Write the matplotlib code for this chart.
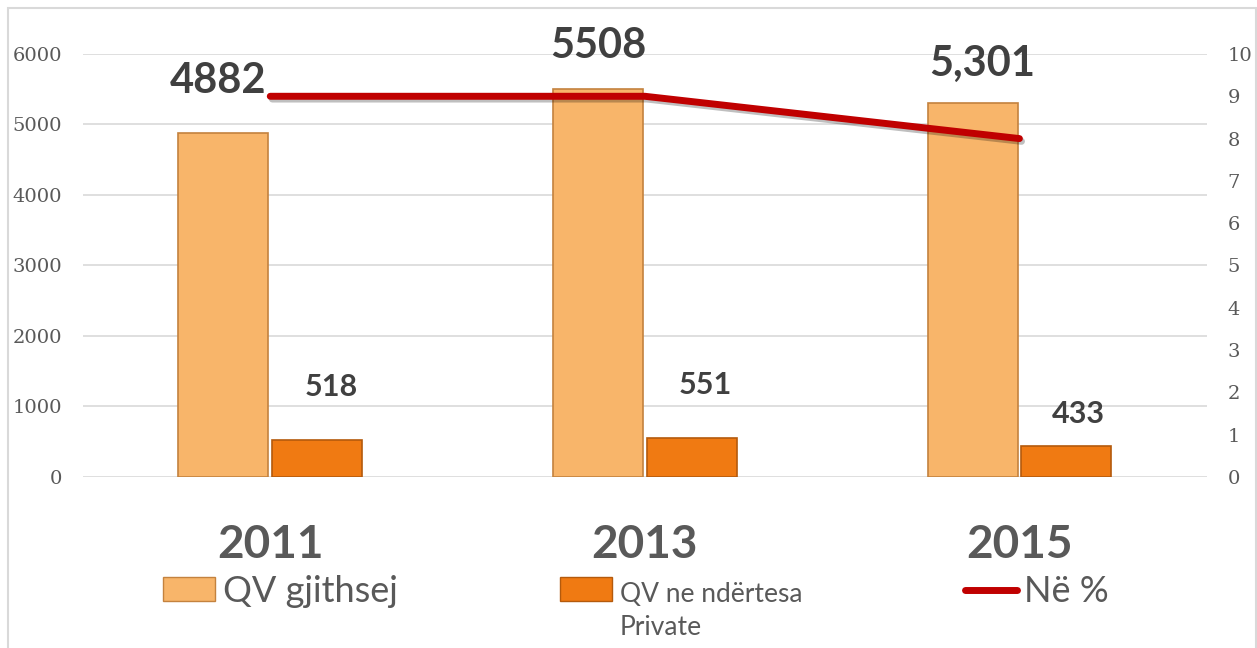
import matplotlib
matplotlib.use("Agg")
import matplotlib.pyplot as plt
import matplotlib.patheffects as pe
from matplotlib.patches import Patch, Rectangle
from matplotlib.lines import Line2D
import numpy as np

# -----------------------------------------------------------------------
# Data
# -----------------------------------------------------------------------
years = ["2011", "2013", "2015"]
qv_total = [4882, 5508, 5301]
qv_private = [518, 551, 433]
share_pct = [9, 9, 8]
total_labels = ["4882", "5508", "5,301"]
private_labels = ["518", "551", "433"]
legend_labels = ["QV gjithsej", "QV ne ndërtesa", "Në %"]

# manual label nudges (points), as placed in the original chart
total_offsets = [(-4, 29), (0, 22), (7, 20)]
private_offsets = [(10, 32), (10, 32), (9, 17)]

# -----------------------------------------------------------------------
# Styles
# -----------------------------------------------------------------------
c_total, e_total = "#F8B56A", "#C4823E"
c_private, e_private = "#F07A12", "#B45A0C"
c_line = "#C00000"
c_text = "#595959"
c_grid = "#D9D9D9"
serif = "DejaVu Serif"
sans = "Lato"

fig = plt.figure(figsize=(12.57, 6.48), dpi=100)
ax = fig.add_axes([0.066, 0.2639, 0.894, 0.6528])
ax2 = ax.twinx()

x = np.arange(len(years))
w = 0.24
ax.bar(x - 0.125, qv_total, w, color=c_total, edgecolor=e_total, linewidth=1.2, zorder=2)
ax.bar(x + 0.125, qv_private, w, color=c_private, edgecolor=e_private, linewidth=1.2, zorder=2)

ax.set_xlim(-0.5, 2.5)
ax.set_ylim(0, 6000)
ax.set_yticks(np.arange(0, 6001, 1000))
ax.grid(axis="y", color=c_grid, linewidth=1.2)
ax.set_axisbelow(True)
ax.set_xticks(x, years)

for sp in ax.spines.values():
    sp.set_visible(False)
for sp in ax2.spines.values():
    sp.set_visible(False)

ax.tick_params(axis="y", length=0, pad=15, labelsize=14, labelcolor=c_text)
ax.tick_params(axis="x", length=0, pad=34, labelsize=33, labelcolor=c_text)
for t in ax.get_yticklabels():
    t.set_fontfamily(serif)
for t in ax.get_xticklabels():
    t.set_fontfamily(sans)
    t.set_fontweight("bold")

# line on secondary axis
ax2.plot(x, share_pct, color=c_line, linewidth=5, solid_capstyle="round", zorder=3,
         path_effects=[pe.SimpleLineShadow(offset=(1.5, -2), alpha=0.25), pe.Normal()])
ax2.set_ylim(0, 10)
ax2.set_yticks(np.arange(0, 11, 1))
ax2.tick_params(axis="y", length=0, pad=15, labelsize=14, labelcolor=c_text)
for t in ax2.get_yticklabels():
    t.set_fontfamily(serif)

# data labels
for i in range(len(years)):
    ax2.annotate(total_labels[i], xy=(x[i] - 0.125, qv_total[i]), xycoords=ax.transData,
                 xytext=total_offsets[i], textcoords="offset points",
                 ha="center", va="baseline", fontsize=30, fontweight="bold",
                 color="#404040", family=sans)
    ax2.annotate(private_labels[i], xy=(x[i] + 0.125, qv_private[i]), xycoords=ax.transData,
                 xytext=private_offsets[i], textcoords="offset points",
                 ha="center", va="baseline", fontsize=22, fontweight="bold",
                 color="#404040", family=sans)

# legend
handles = [
    Patch(facecolor=c_total, edgecolor=e_total),
    Patch(facecolor=c_private, edgecolor=e_private),
    Line2D([], [], color=c_line, linewidth=5, solid_capstyle="round"),
]
leg = ax2.legend(handles, legend_labels, ncol=3, loc="upper left",
                 bbox_to_anchor=(163 / 1257, 1 - 575 / 648), bbox_transform=fig.transFigure,
                 frameon=False, prop={"family": sans, "size": 26},
                 handlelength=1.45, handleheight=0.65, handletextpad=0.2,
                 columnspacing=4.5, borderpad=0, borderaxespad=0)
for t in leg.get_texts():
    t.set_color(c_text)
leg.get_texts()[1].set_fontsize(19)
# second line of the middle legend entry, drawn after the legend itself
ax2.annotate("Private", xy=(0, 0), xycoords=leg.get_texts()[1],
             xytext=(0, -6), textcoords="offset points", ha="left", va="top",
             fontsize=19, color=c_text, family=sans, zorder=10)

# chart border
fig.patches.append(Rectangle((8 / 1257, -0.01), 1248 / 1257, 1 - 8 / 648 + 0.01,
                             transform=fig.transFigure, fill=False,
                             edgecolor=c_grid, linewidth=1.5))

fig.savefig("out.png", dpi=100)
